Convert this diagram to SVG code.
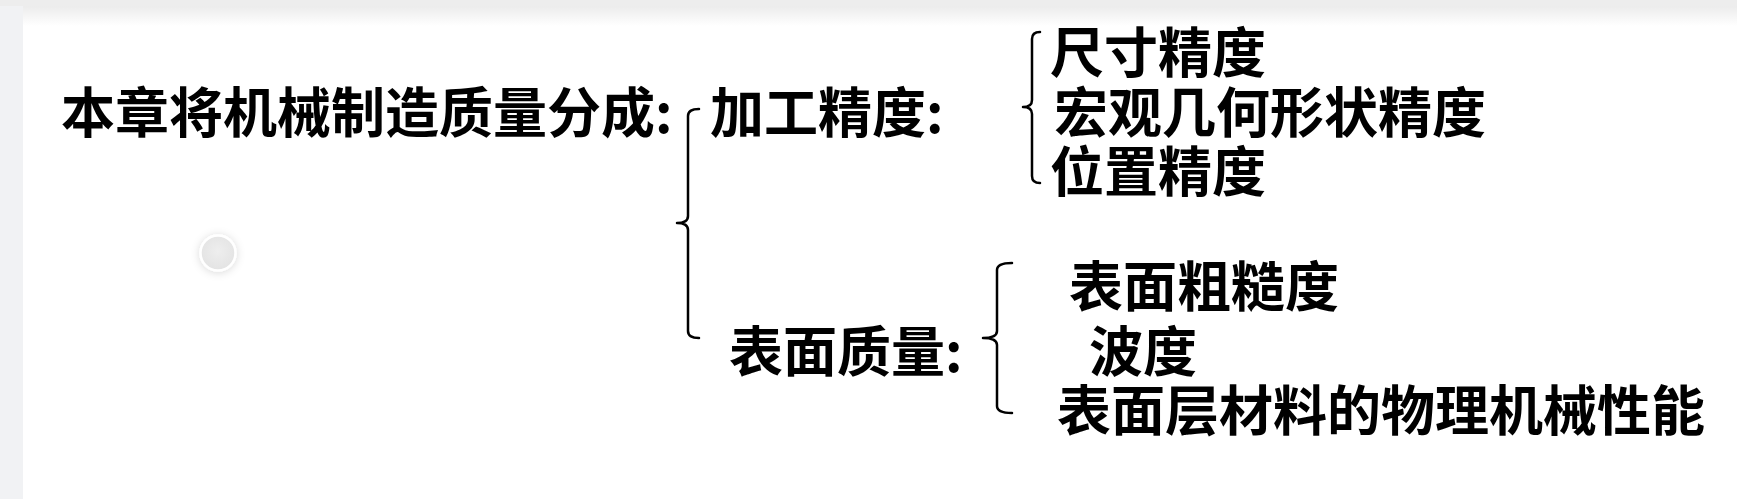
<svg xmlns="http://www.w3.org/2000/svg" width="1737" height="499" viewBox="0 0 1737 499">
<defs>
<linearGradient id="topShadow" x1="0" y1="0" x2="0" y2="1">
<stop offset="0" stop-color="#e6e6e6"/>
<stop offset="1" stop-color="#ffffff"/>
</linearGradient>
<radialGradient id="knob" cx="0.5" cy="0.45" r="0.6">
<stop offset="0" stop-color="#eeeeee"/>
<stop offset="1" stop-color="#e2e2e2"/>
</radialGradient>
<filter id="soft" x="-60%" y="-60%" width="220%" height="220%">
<feGaussianBlur in="SourceAlpha" stdDeviation="4"/>
<feOffset dx="0" dy="1" result="b"/>
<feFlood flood-color="#000" flood-opacity="0.15"/>
<feComposite in2="b" operator="in"/>
<feMerge><feMergeNode/><feMergeNode in="SourceGraphic"/></feMerge>
</filter>
</defs>
<style>
.t{font-family:"Noto Sans CJK SC","Noto Sans",sans-serif;font-weight:700;font-size:54px;fill:#000;dominant-baseline:central}
.br{fill:none;stroke:#000;stroke-width:2.5;stroke-linecap:round;stroke-linejoin:round}
</style>
<rect width="1737" height="499" fill="#ffffff"/>
<rect x="0" y="0" width="1737" height="26" fill="url(#topShadow)"/>
<rect x="0" y="0" width="1737" height="6" fill="#ededed"/>
<rect x="0" y="6" width="23" height="493" fill="#f1f2f4"/>
<circle cx="218" cy="253" r="17.5" fill="url(#knob)" stroke="#ffffff" stroke-width="2.5" filter="url(#soft)"/>

<g id="connectors">
<path class="br" d="M699,109 Q688,109 688,116 L688,216 Q688,223 677,223 Q688,223 688,230 L688,331 Q688,338 699,338"/>
<path class="br" d="M1040,32 Q1032,32 1032,39 L1032,100 Q1032,107 1023,107 Q1032,107 1032,114 L1032,176 Q1032,183 1040,183"/>
<path class="br" d="M1012,263 Q997,263 997,270 L997,331 Q997,338 983,338 Q997,338 997,345 L997,406 Q997,413 1012,413"/>
</g>

<g id="root"><text class="t" x="61" y="109">本章将机械制造质量分成:</text></g>
<g id="machining-accuracy"><text class="t" x="710" y="109">加工精度:</text></g>
<g id="dimension-accuracy"><text class="t" x="1050" y="49">尺寸精度</text></g>
<g id="shape-accuracy"><text class="t" x="1054" y="109">宏观几何形状精度</text></g>
<g id="position-accuracy"><text class="t" x="1050" y="168">位置精度</text></g>
<g id="surface-quality"><text class="t" x="729" y="348">表面质量:</text></g>
<g id="roughness"><text class="t" x="1069" y="283">表面粗糙度</text></g>
<g id="waviness"><text class="t" x="1089" y="348">波度</text></g>
<g id="surface-layer"><text class="t" x="1057" y="407">表面层材料的物理机械性能</text></g>
</svg>
